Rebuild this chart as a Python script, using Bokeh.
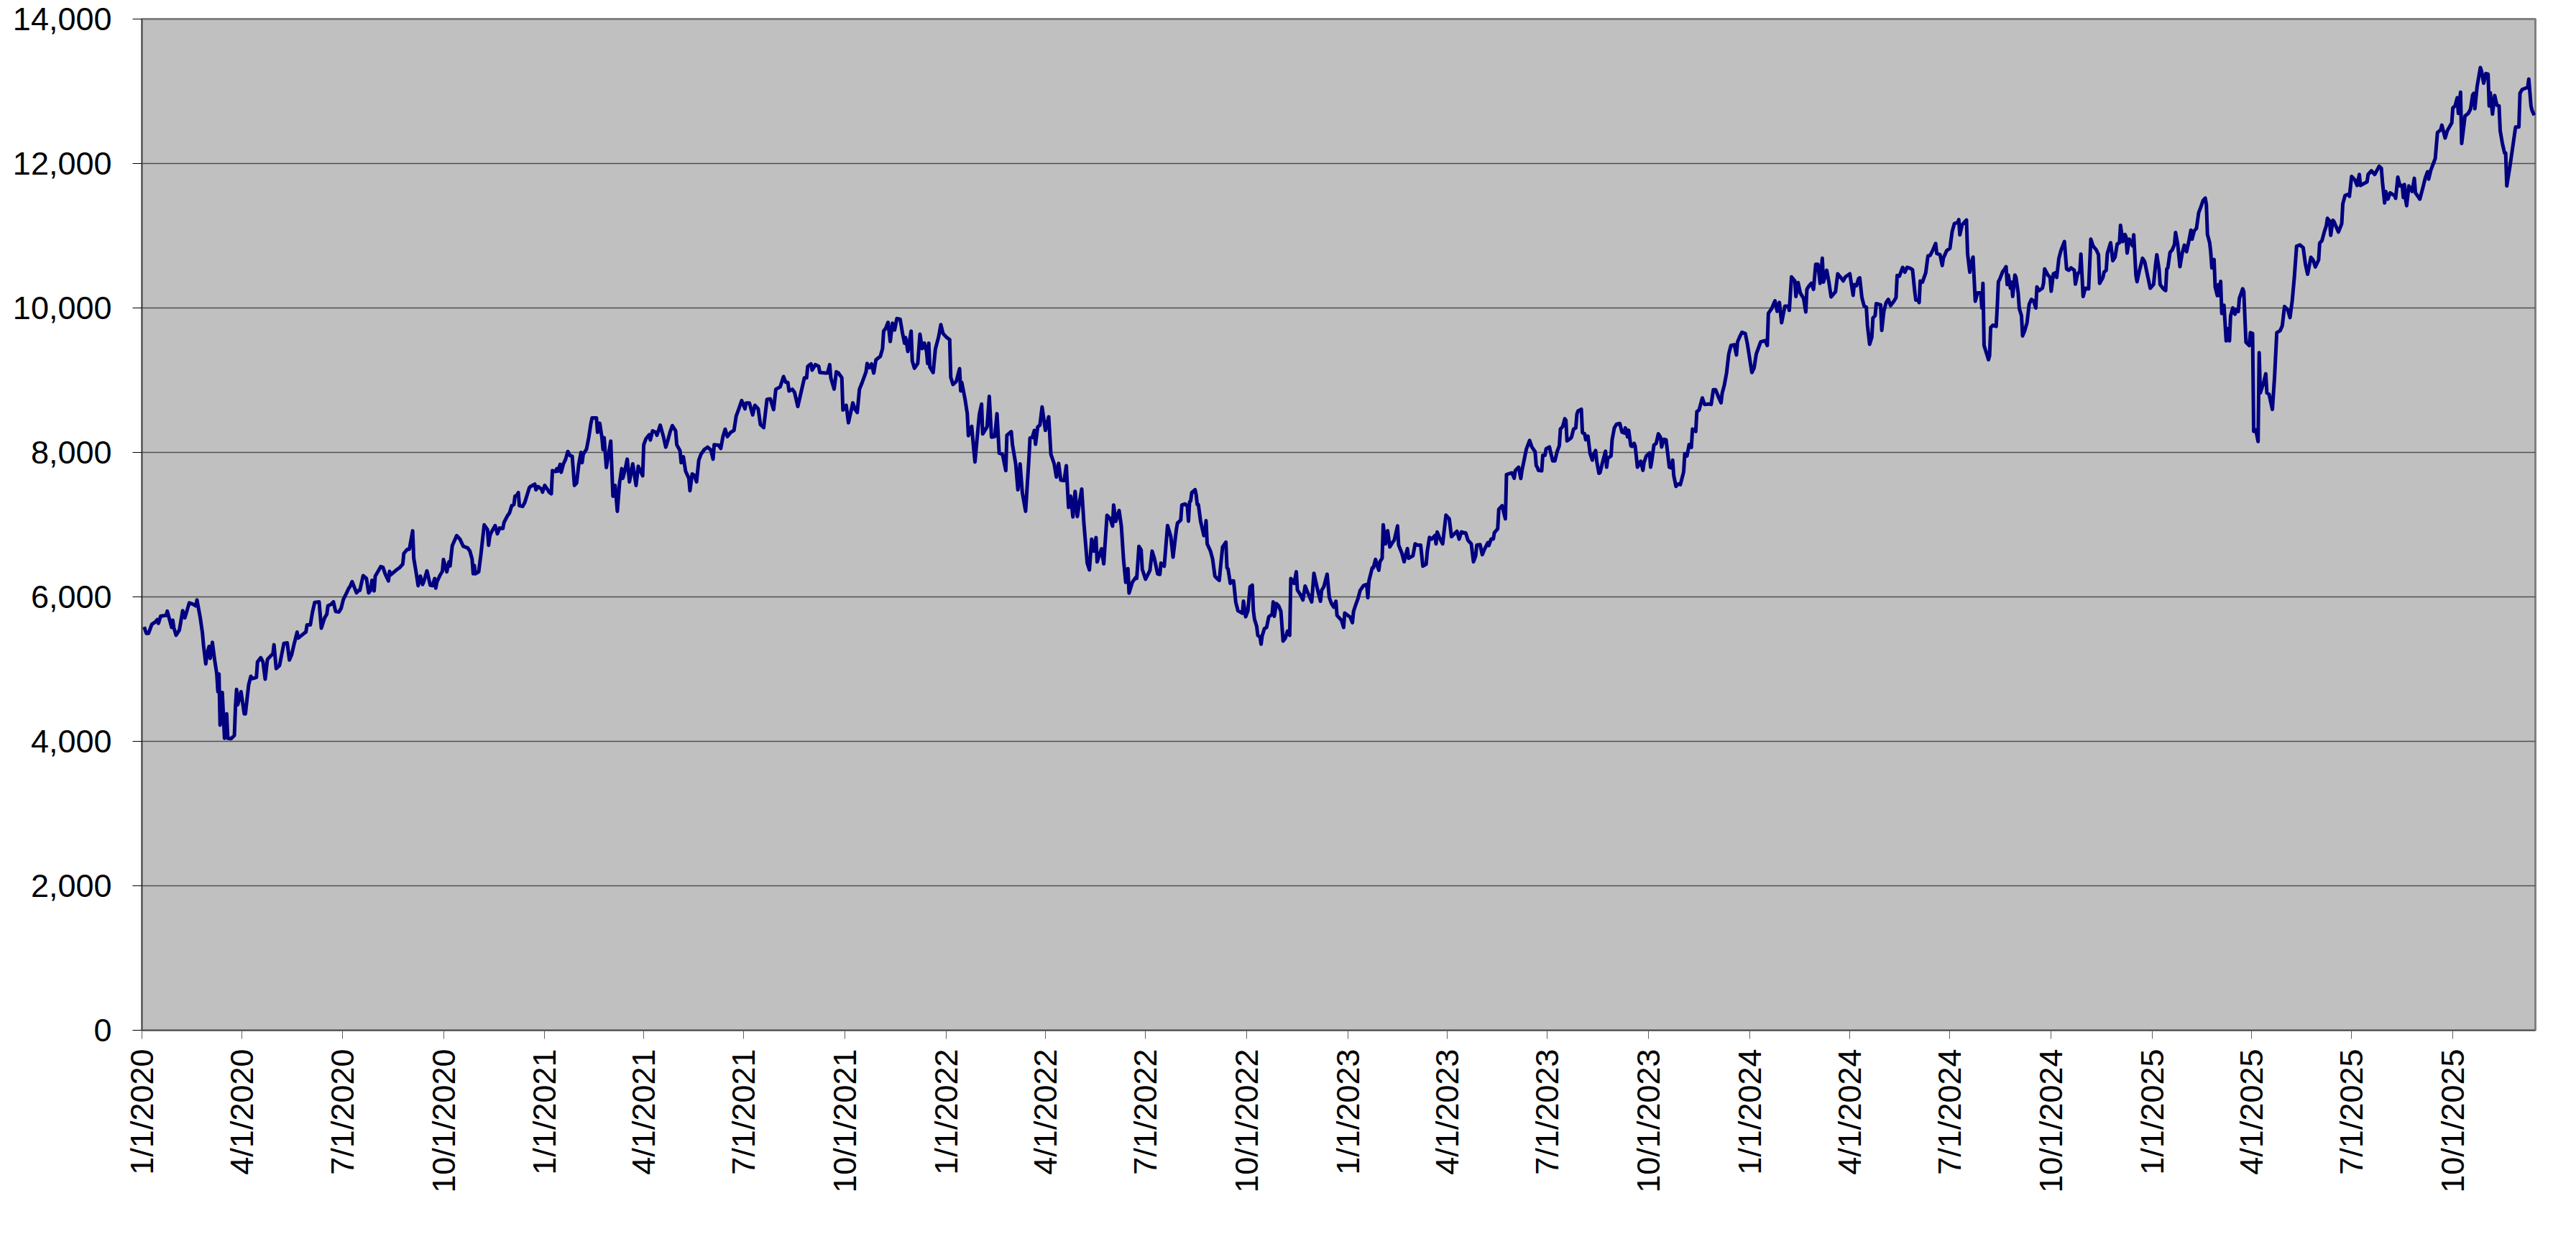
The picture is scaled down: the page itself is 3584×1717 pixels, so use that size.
import math
from datetime import date
from bokeh.plotting import figure
from bokeh.models import Range1d, FixedTicker, NumeralTickFormatter, ColumnDataSource
from bokeh.embed import file_html
from bokeh.resources import INLINE

start_date = date(2020, 1, 1)
x_end_day = 2175

days_since_start = [
    2, 4, 6, 9, 12, 14, 15, 17, 22, 23, 27, 28, 29, 31, 34, 36, 37, 39, 43, 46, 49, 50, 53, 55, 56, 58, 59, 61, 62, 64,
    66, 68, 69, 70, 71, 73, 75, 77, 78, 81, 84, 85, 86, 87, 90, 93, 94, 97, 99, 100, 104, 105, 108, 110, 112, 114, 115,
    119, 120, 122, 125, 129, 132, 134, 136, 138, 141, 142, 146, 149, 150, 153, 155, 157, 161, 163, 166, 168, 169, 172,
    174, 176, 179, 181, 183, 186, 188, 189, 191, 195, 197, 198, 201, 204, 206, 208, 209, 211, 212, 217, 219, 221, 224,
    225, 226, 231, 234, 237, 238, 241, 243, 246, 247, 249, 251, 253, 255, 256, 259, 262, 264, 266, 267, 268, 271, 273,
    274, 277, 279, 280, 282, 286, 289, 292, 296, 298, 300, 301, 302, 303, 306, 308,
    311, 314, 315, 316, 317, 321, 323, 325, 328, 329, 332, 334, 336, 338, 339, 341, 342, 343, 346, 348, 352, 353, 357,
    358, 360, 363, 364, 366, 369, 370, 372, 373, 376, 377, 378, 380, 381, 383, 385, 387, 389, 391, 393, 395, 397, 399,
    400, 401, 404, 406, 408, 409, 413, 414, 416, 418, 419, 420, 422, 424, 426, 428, 430, 432, 434, 436, 437, 439, 441,
    443, 445, 446, 449, 451, 453, 455, 456, 458, 461, 462, 464, 467, 468, 471, 474, 476, 478, 480, 482, 485, 486, 489,
    490, 492, 494, 497, 498, 500, 502, 504, 506, 508, 511, 514, 517, 519, 520, 524, 526, 528, 530, 532, 535, 538, 540,
    542, 545, 548, 549, 552, 555, 557, 560, 562, 565, 568, 571, 574, 576, 580, 583, 585, 587, 588, 591, 593, 596, 599,
    602, 604, 605, 608, 609, 612, 615, 616, 621, 623, 625, 626,
    629, 631, 633, 636, 637, 640, 642, 646, 648, 650, 652, 654, 657, 658, 659, 661, 663, 665, 667, 671, 673, 674, 676,
    678, 680, 682, 684, 686, 689, 691, 693, 694, 696, 699, 700, 702, 705, 707, 709, 711, 713, 714, 715, 716, 719, 721,
    724, 726, 728, 731, 734, 735, 737, 740, 743, 744, 745, 748, 750, 751, 754, 756, 757, 759, 761, 763, 764, 768, 770,
    772, 775, 777, 779, 782, 785, 786, 790, 791, 794, 796, 798, 800, 803, 806, 807, 809, 811, 812, 814, 816, 818, 821,
    824, 826, 829, 831, 833, 835, 838, 840, 842, 844, 846, 848, 850, 852, 854, 856, 859, 861, 863, 865, 867, 868, 872,
    874, 877, 880, 882, 883, 885, 888, 890, 892, 894, 896, 897, 900, 903, 904, 906, 908, 909, 912, 916, 918, 920, 923,
    925, 926, 929, 932, 935, 937,
    940, 941, 944, 945, 948, 950, 951, 952, 953, 954, 957, 958, 959, 960, 962, 965, 966, 967, 968, 971, 973, 975, 977,
    979, 980, 982, 985, 986, 987, 989, 991, 992, 994, 996, 999, 1000, 1001, 1003, 1005, 1007, 1009, 1010, 1011, 1013,
    1014, 1016, 1017, 1018, 1020, 1022, 1024, 1027, 1028, 1029, 1031, 1033, 1035, 1037, 1039, 1041, 1043, 1044, 1047,
    1049, 1050, 1053, 1055, 1057, 1059, 1063, 1065, 1067, 1069, 1071, 1072, 1074, 1077, 1079, 1081, 1083, 1085, 1086,
    1090, 1092, 1093, 1096, 1098, 1100, 1101, 1103, 1105, 1107, 1110, 1113, 1114, 1115, 1118, 1119, 1121, 1122, 1124,
    1125, 1127, 1128, 1130, 1132, 1134, 1137, 1138, 1141, 1142, 1145, 1147, 1148, 1150, 1151, 1153, 1155, 1157, 1159,
    1162, 1164, 1167, 1168, 1170, 1172, 1175, 1176, 1177, 1179, 1182, 1185, 1188, 1190, 1195, 1197, 1199, 1203, 1205,
    1208, 1210, 1212, 1213, 1216, 1218, 1220, 1223, 1224, 1226, 1228, 1229, 1232, 1233, 1236, 1239, 1240, 1243, 1245,
    1247, 1248,
    1251, 1253, 1254, 1256, 1258, 1261, 1263, 1266, 1267, 1268, 1269, 1272, 1273, 1275, 1276, 1279, 1280, 1282, 1284,
    1286, 1288, 1289, 1291, 1293, 1294, 1295, 1298, 1299, 1301, 1303, 1304, 1305, 1308, 1309, 1311, 1312, 1314, 1316,
    1318, 1319, 1321, 1322, 1324, 1325, 1327, 1328, 1330, 1331, 1332, 1335, 1336, 1338, 1340, 1343, 1345, 1347, 1348,
    1350, 1351, 1353, 1354, 1356, 1357, 1359, 1361, 1362, 1364, 1365, 1367, 1370, 1371, 1372, 1374, 1376, 1378, 1380,
    1381, 1383, 1385, 1388, 1390, 1391, 1392, 1394, 1396, 1398, 1401, 1402, 1404, 1406, 1408, 1409, 1412, 1413, 1415,
    1418, 1420, 1425, 1426, 1428, 1430, 1433, 1435, 1436, 1438, 1440, 1442, 1444, 1447, 1449, 1450, 1452, 1454, 1457,
    1459, 1461, 1463, 1465, 1467, 1471, 1475, 1477, 1478, 1481, 1484, 1486, 1488, 1490, 1493, 1496, 1497, 1499, 1502,
    1503, 1505, 1507, 1510, 1512, 1513, 1515, 1517, 1519, 1521, 1523, 1525, 1527, 1528, 1531, 1533, 1535, 1539, 1541,
    1544, 1546, 1548, 1552, 1555, 1556, 1558, 1560, 1561, 1563,
    1565, 1567, 1568, 1570, 1572, 1573, 1575, 1576, 1580, 1581, 1583, 1585, 1587, 1589, 1592, 1594, 1595, 1597, 1599,
    1600, 1602, 1604, 1607, 1609, 1611, 1612, 1614, 1615, 1616, 1618, 1621, 1623, 1625, 1627, 1630, 1631, 1634, 1636,
    1637, 1640, 1643, 1645, 1647, 1650, 1651, 1652, 1654, 1655, 1658, 1659, 1661, 1662, 1664, 1666, 1668, 1671, 1672,
    1673, 1674, 1676, 1678, 1679, 1680, 1682, 1685, 1686, 1687, 1688, 1691, 1692, 1694, 1695, 1696, 1698, 1699, 1700,
    1702, 1703, 1705, 1706, 1708, 1709, 1711, 1713, 1715, 1717, 1719, 1721, 1722, 1724, 1727, 1728, 1729, 1732, 1734,
    1735, 1737, 1739, 1740, 1742, 1744, 1747, 1749, 1751, 1753, 1756, 1757, 1759, 1761, 1762, 1764, 1766, 1769, 1771,
    1773, 1776, 1778, 1779, 1782, 1783, 1785, 1786, 1789, 1791, 1793, 1795, 1797, 1798, 1800, 1802, 1803, 1804, 1806,
    1809, 1810, 1812, 1813, 1815, 1818, 1820, 1822, 1825, 1828, 1830, 1831, 1833, 1834, 1837, 1839, 1840, 1841, 1843,
    1845, 1847, 1848, 1850, 1852, 1854, 1856, 1858, 1860, 1862, 1863, 1865, 1867, 1869, 1871, 1873, 1875, 1876, 1877,
    1879, 1880, 1881, 1883, 1884,
    1886, 1887, 1888, 1889, 1890, 1892, 1894, 1895, 1897, 1898, 1900, 1902, 1903, 1905, 1906, 1909, 1910, 1912, 1915,
    1916, 1918, 1919, 1921, 1923, 1924, 1925, 1928, 1930, 1931, 1933, 1936, 1938, 1940, 1943, 1945, 1947, 1950, 1952,
    1954, 1956, 1958, 1961, 1964, 1966, 1968, 1971, 1973, 1975, 1978, 1979, 1981, 1983, 1985, 1986, 1988, 1989, 1991,
    1992, 1996, 1999, 2000, 2002, 2005, 2006, 2008, 2011, 2013, 2015, 2016, 2022, 2023, 2026, 2029, 2033, 2035, 2036,
    2038, 2039, 2041, 2043, 2047, 2048, 2050, 2052, 2054, 2055, 2056, 2057, 2058, 2060, 2063, 2065, 2066, 2070, 2073,
    2075, 2077, 2078, 2080, 2084, 2086, 2089, 2090, 2093, 2095, 2099, 2100, 2102, 2104, 2105, 2107, 2108, 2110, 2111,
    2114, 2116, 2118, 2119, 2120, 2122, 2125, 2126, 2128, 2130, 2132, 2133, 2134, 2136, 2138, 2140, 2142, 2143, 2145,
    2147, 2148, 2149, 2152, 2157, 2160, 2161, 2163, 2168, 2169, 2171, 2172, 2174,
]

index_value = [
    5584, 5495, 5495, 5620, 5650, 5686, 5634, 5733, 5743, 5802, 5578, 5677, 5571, 5469, 5541, 5716, 5809, 5710, 5917,
    5901, 5875, 5957, 5710, 5495, 5323, 5073, 5198, 5314, 5149, 5370, 5132, 4934, 4687, 4934, 4225, 4677, 4043, 4380,
    4043, 4037, 4083, 4489, 4720, 4505, 4687, 4380, 4380, 4786, 4901, 4868, 4885, 5099, 5158, 5099, 4861, 5132, 5149,
    5215, 5337, 5007, 5050, 5357, 5363, 5126, 5198, 5330, 5512, 5429, 5479, 5515, 5611, 5611, 5792, 5924, 5931, 5568,
    5710, 5759, 5875, 5898, 5931, 5799, 5792, 5842, 5964, 6056, 6122, 6139, 6211, 6056, 6089, 6089, 6294, 6254, 6056,
    6096, 6228, 6083, 6287, 6419, 6409, 6320, 6221, 6353, 6304, 6370, 6403, 6452, 6601, 6657, 6660, 6914, 6535, 6353,
    6155, 6287, 6172, 6205, 6360, 6162, 6155, 6254, 6122, 6205, 6304, 6353, 6518, 6347, 6485, 6429, 6710, 6848, 6799,
    6700, 6677, 6634, 6525, 6320, 6436, 6320, 6347, 6584,
    6997, 6931, 6715, 6831, 6881, 6987, 6874, 6954, 6947, 7030, 7119, 7162, 7262, 7278, 7394, 7411, 7444, 7262, 7252,
    7311, 7510, 7527, 7560, 7483, 7527, 7493, 7450, 7543, 7477, 7450, 7427, 7748, 7735, 7775, 7742, 7834, 7725, 7841,
    7907, 8013, 7957, 7947, 7543, 7576, 7841, 8000, 7858, 7974, 8046, 8205, 8404, 8477, 8477, 8278, 8404, 8205, 8040,
    8205, 7791, 7974, 8156, 7394, 7543, 7185, 7576, 7775, 7642, 7758, 7907, 7593, 7758, 7841, 7543, 7808, 7742, 7676,
    8106, 8189, 8245, 8172, 8298, 8278, 8238, 8377, 8212, 8073, 8172, 8288, 8371, 8298, 8106, 8023, 7858, 7940, 7742,
    7642, 7470, 7702, 7682, 7593, 7891, 7974, 8040, 8073, 8033, 7907, 8106, 8099, 8056, 8222, 8321, 8219, 8278, 8305,
    8503, 8586, 8718, 8603, 8685, 8685, 8520, 8652, 8603, 8387, 8344, 8735, 8742, 8593, 8874, 8907, 9050, 8973, 8967,
    8851, 8874, 8834, 8636, 8834, 9033, 9033, 9192, 9225, 9139, 9215, 9192, 9106, 9099, 9099, 9215, 9033,
    8877, 9116, 9099, 9033, 8586, 8652, 8411, 8685, 8596, 8553, 8874, 8950, 9073, 9116, 9232, 9172, 9225, 9099, 9281,
    9331, 9437, 9679, 9722, 9801, 9536, 9788, 9695, 9854, 9844, 9662, 9513, 9589, 9397, 9679, 9265, 9166, 9232, 9636,
    9437, 9513, 9397, 9232, 9513, 9182, 9106, 9430, 9603, 9768, 9646, 9596, 9563, 9040, 8940, 8983, 9159, 8851, 8967,
    8735, 8536, 8232, 8361, 8023, 7868, 8205, 8530, 8669, 8255, 8354, 8775, 8212, 8222, 8536, 7990, 7974, 7748, 8238,
    8288, 8113, 7841, 7483, 7841, 7444, 7185, 7907, 8199, 8205, 8305, 8113, 8354, 8377, 8629, 8305, 8493, 7974, 7841,
    7659, 7848, 7616, 7609, 7815, 7238, 7394, 7106, 7460, 7113, 7311, 7493, 7013, 6467, 6374, 6798, 6633, 6821, 6484,
    6666, 6457, 7129, 7080, 6980, 7272, 7046, 7195, 6980, 6517, 6202, 6391, 6053, 6202, 6268, 6258, 6699, 6649, 6384,
    6245, 6368, 6633, 6533, 6318, 6311, 6467, 6424, 6987, 6831, 6550,
    6932, 7021, 7064, 7273, 7286, 7253, 7048, 7312, 7329, 7445, 7484, 7412, 7279, 7279, 7048, 6849, 6883, 7054, 6734,
    6635, 6519, 6287, 6254, 6228, 6387, 6691, 6757, 6403, 6387, 6188, 6221, 6221, 5924, 5808, 5782, 5775, 5940, 5725,
    5808, 6139, 6162, 5808, 5692, 5593, 5468, 5444, 5345, 5461, 5560, 5577, 5725, 5759, 5930, 5732, 5907, 5874, 5798,
    5388, 5428, 5527, 5468, 6254, 6188, 6347, 6096, 6023, 5957, 6149, 6073, 5930, 6327, 6188, 6056, 5940, 6089, 6139,
    6314, 5990, 5907, 5858, 5940, 5742, 5676, 5577, 5775, 5742, 5719, 5643, 5798, 5891, 5973, 6089, 6155, 6172, 5990,
    6221, 6403, 6403, 6519, 6453, 6370, 6486, 6535, 6998, 6734, 6916, 6691, 6767, 6783, 6982, 6717, 6602, 6486, 6559,
    6668, 6535, 6552, 6569, 6734, 6717, 6717, 6426, 6453, 6625, 6823, 6800, 6850, 6734, 6899, 6823, 6734, 7131, 7081,
    6833, 6909, 6800, 6899, 6883, 6783, 6734, 6486, 6569, 6717, 6724, 6585, 6658, 6750, 6711, 6800, 6800, 6889, 6942,
    7213, 7263, 7081, 7693, 7709, 7716, 7643, 7749,
    7795, 7640, 7745, 7894, 8043, 8165, 8076, 8010, 7818, 7795, 7752, 7745, 7960, 7960, 8050, 8076, 8010, 7884, 7884,
    8010, 8092, 8324, 8357, 8466, 8446, 8159, 8192, 8208, 8324, 8340, 8532, 8572, 8598, 8274, 8258, 8175, 8225, 7983,
    7894, 7970, 8026, 7878, 7712, 7719, 7844, 7904, 8016, 7795, 7917, 7950, 8175, 8340, 8390, 8400, 8281, 8268, 8340,
    8215, 8307, 8092, 8083, 8125, 8083, 7795, 7851, 7878, 7752, 7861, 7950, 7993, 7795, 7884, 8102, 8125, 8258, 8208,
    8076, 8182, 8175, 7795, 7785, 7894, 7679, 7530, 7563, 7554, 7729, 7983, 7950, 8109, 8069, 8324, 8291, 8565, 8588,
    8754, 8664, 8671, 8664, 8869, 8869, 8754, 8688, 8820, 8935, 9101, 9365, 9481, 9491, 9349, 9531, 9603, 9663, 9646,
    9497, 9299, 9107, 9167, 9365, 9531, 9547, 9481, 9927, 9993, 10099, 9954, 10076, 9795, 10026, 10026, 9967, 10430,
    10374, 10159, 10350, 10208, 10132, 9944, 10258, 10307, 10341, 10258, 10605, 10605, 10341, 10688, 10357, 10522,
    10357, 10152, 10225, 10473, 10417, 10374, 10430, 10473, 10175, 10324, 10307, 10407, 10417, 10142,
    10026, 10010, 9762, 9497, 9597, 9861, 9894, 10060, 10043, 9689, 9960, 10076, 10119, 10033, 10093, 10142, 10450,
    10440, 10522, 10562, 10496, 10562, 10549, 10529, 10225, 10109, 10109, 10076, 10374, 10357, 10489, 10721, 10727,
    10787, 10893, 10754, 10737, 10588, 10688, 10793, 10827, 11058, 11167, 11184, 11223, 11012, 11150, 11167, 11217,
    10754, 10496, 10605, 10704, 10093, 10208, 10208, 10000, 10341, 9481, 9382, 9283, 9339, 9729, 9762, 9745, 10026,
    10364, 10390, 10506, 10522, 10572, 10324, 10456, 10274, 10357, 10159, 10456, 10423, 10208, 9993, 9894, 9613, 9689,
    9795, 10053, 10119, 10099, 10000, 10291, 10241, 10274, 10341, 10539, 10456, 10423, 10231, 10473, 10489, 10423,
    10688, 10803, 10919, 10539, 10522, 10555, 10522, 10331, 10473, 10506, 10747, 10159, 10274, 10264, 10952, 10860,
    10803, 10737, 10341, 10423, 10496, 10522, 10754, 10903, 10655, 10704, 10886, 10903, 11144, 10919, 11018, 10985,
    10760, 10952, 10860, 11012, 10450, 10364, 10506, 10688, 10638, 10489, 10274, 10324, 10622, 10737, 10539, 10324,
    10264, 10241, 10539, 10555, 10770, 10803, 10879, 11045, 10879, 10572, 10754, 10870, 10780, 10919, 11078, 10952,
    11068, 11101, 11316, 11398, 11488, 11521, 11432, 11018, 10903, 10770, 10555, 10671, 10291,
    10171, 10323, 10171, 10368, 9924, 10038, 9545, 9715, 9545, 9886, 10000, 9913, 9981, 9951, 10133, 10266, 10228,
    9526, 9480, 9658, 9647, 8292, 8311, 8152, 9381, 8824, 8964, 9089, 8824, 8805, 8596, 9051, 9658, 9685, 9753, 10019,
    9973, 9867, 10095, 10436, 10854, 10873, 10835, 10607, 10467, 10702, 10664, 10569, 10664, 10899, 10930, 11044,
    11139, 11241, 11203, 11006, 11214, 11195, 11051, 11165, 11442, 11556, 11575, 11545, 11822, 11772, 11696, 11848,
    11696, 11746, 11848, 11898, 11848, 11962, 11935, 11746, 11454, 11613, 11507, 11594, 11556, 11518, 11810, 11689,
    11696, 11529, 11708, 11507, 11416, 11689, 11613, 11795, 11594, 11507, 11681, 11803, 11886, 11784, 11909, 12068,
    12429, 12467, 12531, 12353, 12455, 12562, 12770, 12797, 12911, 12694, 12987, 12277, 12524, 12657, 12694, 12751,
    12949, 12972, 12759, 13063, 13328, 13283, 13112, 13245, 13237, 12797, 12979, 12683, 12941, 12808, 12797, 12455,
    12277, 12144, 12144, 11689, 11973, 12505, 12505, 12972, 13025, 13055, 13169, 12797, 12732, 12668,
]

x_tick_labels = [
    "1/1/2020", "4/1/2020", "7/1/2020", "10/1/2020",
    "1/1/2021", "4/1/2021", "7/1/2021", "10/1/2021",
    "1/1/2022", "4/1/2022", "7/1/2022", "10/1/2022",
    "1/1/2023", "4/1/2023", "7/1/2023", "10/1/2023",
    "1/1/2024", "4/1/2024", "7/1/2024", "10/1/2024",
    "1/1/2025", "4/1/2025", "7/1/2025", "10/1/2025",
]
y_ticks = [0, 2000, 4000, 6000, 8000, 10000, 12000, 14000]


def label_to_day(s):
    m, d, y = (int(t) for t in s.split("/"))
    return (date(y, m, d) - start_date).days


x_ticks = [label_to_day(s) for s in x_tick_labels]

src = ColumnDataSource(data=dict(x=days_since_start, y=index_value))

p = figure(
    width=3568, height=1700,
    output_backend="svg", toolbar_location=None,
    x_range=Range1d(0, x_end_day), y_range=Range1d(0, 14000),
    min_border_left=197, min_border_right=41, min_border_top=26, min_border_bottom=267,
)
p.background_fill_color = "#C0C0C0"
p.border_fill_color = "white"
p.outline_line_color = "#808080"
p.outline_line_width = 3

p.xgrid.visible = False
p.ygrid.grid_line_color = "#505050"
p.ygrid.grid_line_width = 1.5
p.ygrid.ticker = FixedTicker(ticks=y_ticks)

font = "Liberation Sans"

ya = p.yaxis[0]
ya.ticker = FixedTicker(ticks=y_ticks)
ya.formatter = NumeralTickFormatter(format="0,0")
ya.major_label_text_font = font
ya.major_label_text_font_size = "45px"
ya.major_label_text_color = "black"
ya.major_tick_out = 13
ya.major_tick_in = 0
ya.minor_tick_out = 0
ya.minor_tick_in = 0
ya.major_tick_line_color = "black"
ya.axis_line_color = "#404040"
ya.major_label_standoff = 29

xa = p.xaxis[0]
xa.ticker = FixedTicker(ticks=x_ticks)
xa.major_label_overrides = {t: s for t, s in zip(x_ticks, x_tick_labels)}
xa.major_label_orientation = math.pi / 2
xa.major_label_text_font = font
xa.major_label_text_font_size = "45px"
xa.major_label_text_color = "black"
xa.major_tick_out = 12
xa.major_tick_in = 0
xa.minor_tick_out = 0
xa.minor_tick_in = 0
xa.major_tick_line_color = "#606060"
xa.axis_line_color = "#404040"
xa.major_label_standoff = 14

p.line("x", "y", source=src, line_color="#000080", line_width=5, line_join="round")

open("out.html", "w").write(file_html(p, INLINE))
